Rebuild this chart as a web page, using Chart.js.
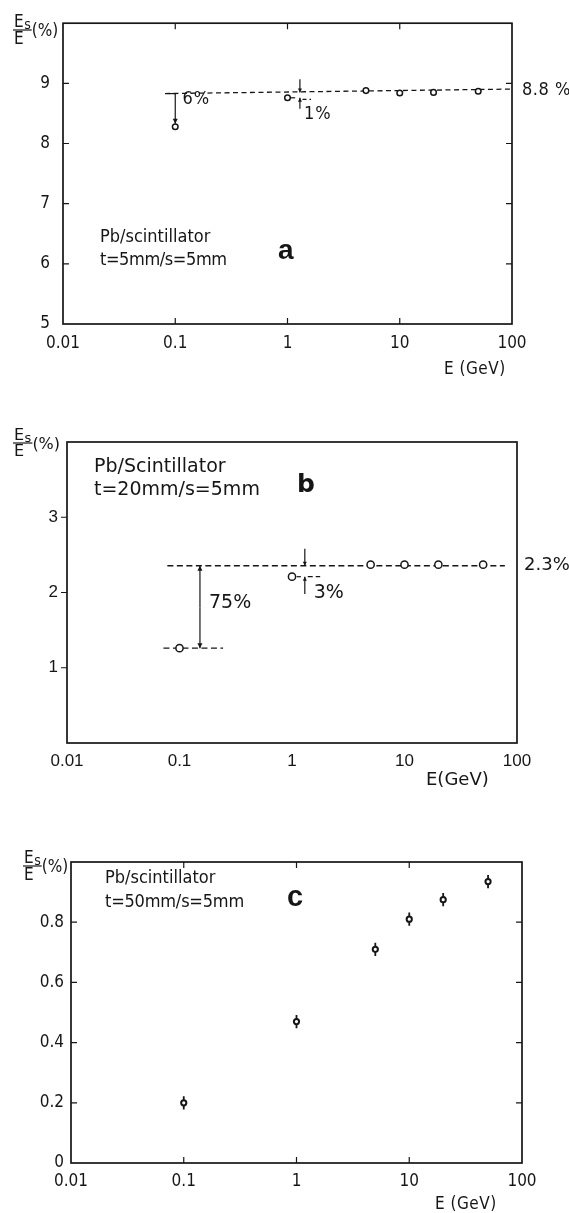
<!DOCTYPE html>
<html>
<head>
<meta charset="utf-8">
<script src="https://cdn.jsdelivr.net/npm/chart.js@4.4.1/dist/chart.umd.min.js"></script>
<style>
  html, body { margin: 0; padding: 0; background: #fff; }
  body { position: relative; width: 569px; height: 1213px; overflow: hidden; }
  canvas { position: absolute; left: 0; }
</style>
</head>
<body>
<canvas id="chartA" width="569" height="395" style="top:0"></canvas>
<canvas id="chartB" width="569" height="405" style="top:395px"></canvas>
<canvas id="chartC" width="569" height="413" style="top:800px"></canvas>
<script>
// decade ticks shared by all three energy axes
const xTicks = [0.01, 0.1, 1, 10, 100];

// (a) t = 5 mm
const energyA = [0.1, 1, 5, 10, 20, 50];
const resA = [8.28, 8.76, 8.88, 8.84, 8.85, 8.87];
const fitXA = [0.081, 100];
const fitYA = [8.83, 8.905];
const yTicksA = [5, 6, 7, 8, 9, 10];

// (b) t = 20 mm
const energyB = [0.1, 1, 5, 10, 20, 50];
const resB = [1.26, 2.21, 2.37, 2.37, 2.37, 2.37];
const fitXB = [0.078, 78];
const fitYB = [2.355, 2.355];
const lowXB = [0.072, 0.244];
const lowYB = [1.26, 1.26];
const yTicksB = [0, 1, 2, 3, 4];

// (c) t = 50 mm
const energyC = [0.1, 1, 5, 10, 20, 50];
const resC = [0.20, 0.47, 0.71, 0.81, 0.875, 0.935];
const errC = [0.022, 0.022, 0.022, 0.022, 0.022, 0.022];
const yTicksC = [0, 0.2, 0.4, 0.6, 0.8, 1];

const INK = '#161616';
const NARROW = "'Liberation Sans Narrow', 'DejaVu Sans Condensed', 'Arial Narrow', sans-serif";
const PLAIN = "'Liberation Sans', Arial, sans-serif";
const ROUND = "'DejaVu Sans', sans-serif";

function pts(xs, ys) {
    return xs.map((x, i) => ({ x: x, y: ys[i] }));
}

function drawText(ctx, str, x, y, font, spacing, align) {
    ctx.save();
    ctx.font = font;
    ctx.fillStyle = INK;
    ctx.textAlign = align || 'left';
    ctx.textBaseline = 'middle';
    if (spacing) ctx.letterSpacing = spacing + 'px';
    ctx.fillText(str, x, y);
    ctx.restore();
}

// vertical line with a filled head at y1
function arrowV(ctx, x, y0, y1, head) {
    const dir = Math.sign(y1 - y0);
    ctx.beginPath();
    ctx.moveTo(x, y0);
    ctx.lineTo(x, y1);
    ctx.stroke();
    ctx.beginPath();
    ctx.moveTo(x, y1);
    ctx.lineTo(x - head * 0.5, y1 - dir * head);
    ctx.lineTo(x + head * 0.5, y1 - dir * head);
    ctx.closePath();
    ctx.fill();
}

function hLine(ctx, x0, x1, y, dash) {
    ctx.save();
    ctx.setLineDash(dash || []);
    ctx.beginPath();
    ctx.moveTo(x0, y);
    ctx.lineTo(x1, y);
    ctx.stroke();
    ctx.restore();
}

// box around the plot plus short tick marks (left: 1 inward, -1 outward)
function drawFrame(chart, sides, tickLen) {
    const { ctx, chartArea: ar, scales: { x, y } } = chart;
    ctx.save();
    ctx.strokeStyle = INK;
    ctx.lineWidth = 1.7;
    ctx.strokeRect(ar.left, ar.top, ar.right - ar.left, ar.bottom - ar.top);
    ctx.lineWidth = 1.2;
    ctx.beginPath();
    x.ticks.forEach(t => {
        const p = x.getPixelForValue(t.value);
        if (p <= ar.left + 1 || p >= ar.right - 1) return;
        if (sides.bottom) { ctx.moveTo(p, ar.bottom); ctx.lineTo(p, ar.bottom - tickLen); }
        if (sides.top) { ctx.moveTo(p, ar.top); ctx.lineTo(p, ar.top + tickLen); }
    });
    y.ticks.forEach(t => {
        const p = y.getPixelForValue(t.value);
        if (p <= ar.top + 1 || p >= ar.bottom - 1) return;
        if (sides.left) { ctx.moveTo(ar.left, p); ctx.lineTo(ar.left + sides.left * tickLen, p); }
        if (sides.right) { ctx.moveTo(ar.right, p); ctx.lineTo(ar.right - tickLen, p); }
    });
    ctx.stroke();
    ctx.restore();
}

// Es / E (%) stacked title
function drawYTitle(ctx, x, barY, size, family) {
    ctx.save();
    ctx.fillStyle = INK;
    ctx.strokeStyle = INK;
    ctx.textAlign = 'left';
    ctx.textBaseline = 'alphabetic';
    ctx.font = size + 'px ' + family;
    const wE = ctx.measureText('E').width;
    ctx.fillText('E', x, barY - 3);
    ctx.font = Math.round(size * 0.8) + 'px ' + family;
    const ws = ctx.measureText('s').width;
    ctx.fillText('s', x + wE + 0.5, barY - 1.5);
    ctx.lineWidth = 1.2;
    ctx.beginPath();
    ctx.moveTo(x - 1, barY);
    ctx.lineTo(x + wE + ws + 1.5, barY);
    ctx.stroke();
    ctx.font = size + 'px ' + family;
    ctx.fillText('E', x, barY + size * 0.82);
    ctx.fillText('(%)', x + wE + ws + 1.5, barY + size * 0.38);
    ctx.restore();
}

function buildPanel(id, cfg) {
    const canvas = document.getElementById(id);
    const W = canvas.width, H = canvas.height;
    const a = cfg.area;
    return new Chart(canvas, {
        type: 'scatter',
        data: { datasets: cfg.datasets },
        options: {
            responsive: false,
            animation: false,
            devicePixelRatio: 1,
            layout: { padding: { left: 0, top: a.top, right: W - a.right, bottom: 0 } },
            plugins: { legend: { display: false }, tooltip: { enabled: false } },
            scales: {
                x: {
                    type: 'logarithmic',
                    min: 0.01,
                    max: 100,
                    afterFit: s => { s.height = H - a.bottom; },
                    afterBuildTicks: s => { s.ticks = xTicks.map(v => ({ value: v })); },
                    grid: { display: false, drawTicks: false },
                    border: { display: false },
                    ticks: {
                        color: INK, font: cfg.tickFont, padding: cfg.xPad,
                        maxRotation: 0, autoSkip: false,
                        callback: v => String(v)
                    }
                },
                y: {
                    type: 'linear',
                    min: cfg.yTicks[0],
                    max: cfg.yTicks[cfg.yTicks.length - 1],
                    afterFit: s => { s.width = a.left; },
                    afterBuildTicks: s => { s.ticks = cfg.yTicks.map(v => ({ value: v })); },
                    grid: { display: false, drawTicks: false },
                    border: { display: false },
                    ticks: { color: INK, font: cfg.tickFont, padding: cfg.yPad, callback: cfg.yLabel }
                }
            }
        },
        plugins: [{
            id: 'paper',
            beforeDatasetsDraw: chart => { if (cfg.under) cfg.under(chart); },
            afterDraw: chart => cfg.draw(chart)
        }]
    });
}

function pointSet(xs, ys, radius, width) {
    return {
        data: pts(xs, ys),
        pointRadius: radius,
        pointBorderWidth: width,
        pointBackgroundColor: '#fff',
        pointBorderColor: INK,
        showLine: false
    };
}

function lineSet(xs, ys, dash, width) {
    return {
        data: pts(xs, ys),
        showLine: true,
        borderColor: INK,
        borderWidth: width,
        borderDash: dash,
        pointRadius: 0
    };
}

// ---- panel a ----
buildPanel('chartA', {
    area: { left: 63, top: 22, right: 512, bottom: 324 },
    yTicks: yTicksA,
    tickFont: { family: NARROW, size: 17 },
    xPad: 9,
    yPad: 13,
    yLabel: v => (v === 10 ? '' : String(v)),
    datasets: [pointSet(energyA, resA, 2.8, 1.5), lineSet(fitXA, fitYA, [5, 3.5], 1.3)],
    draw: chart => {
        const { ctx, chartArea: ar, scales: { x, y } } = chart;
        const px = v => x.getPixelForValue(v), py = v => y.getPixelForValue(v);
        drawFrame(chart, { left: 1, right: true, top: true, bottom: true }, 6);
        ctx.save();
        ctx.strokeStyle = INK;
        ctx.fillStyle = INK;
        ctx.lineWidth = 1.2;
        // 6 % gap at 0.1 GeV
        hLine(ctx, px(0.088), px(0.1), py(fitYA[0]));
        arrowV(ctx, px(0.1), py(fitYA[0]), py(resA[0]) - 3, 5);
        // 1 % gap at 1 GeV
        arrowV(ctx, px(1.29), py(9.07), py(8.85), 4);
        arrowV(ctx, px(1.29), py(8.58), py(resA[1]), 4);
        hLine(ctx, px(1.07), px(1.17), py(resA[1]));
        hLine(ctx, px(1.36), px(1.62), py(resA[1]) + 1.5, [4, 3]);
        ctx.restore();
        drawText(ctx, '6%', px(0.116), py(8.73), '18px ' + NARROW, 1);
        drawText(ctx, '1%', px(1.4), py(8.48), '18px ' + NARROW, 1);
        drawText(ctx, '8.8 %', ar.right + 10, py(8.89), '18px ' + NARROW, 0.5);
        drawText(ctx, 'Pb/scintillator', 100, 237, '18px ' + NARROW);
        drawText(ctx, 't=5mm/s=5mm', 100, 260, '18px ' + NARROW, -0.4);
        drawText(ctx, 'a', 278, 251, 'bold 28px ' + PLAIN);
        drawText(ctx, 'E (GeV)', 444, 370, '17px ' + NARROW, 0.5);
        drawYTitle(ctx, 14, 30, 17, NARROW);
    }
});

// ---- panel b ----
buildPanel('chartB', {
    area: { left: 67, top: 47, right: 517, bottom: 348 },
    yTicks: yTicksB,
    tickFont: { family: PLAIN, size: 17 },
    xPad: 8,
    yPad: 9,
    yLabel: v => (v === 0 || v === 4 ? '' : String(v)),
    datasets: [
        pointSet(energyB, resB, 3.6, 1.5),
        lineSet(fitXB, fitYB, [6, 3.5], 1.5),
        lineSet(lowXB, lowYB, [6, 3.5], 1.3)
    ],
    draw: chart => {
        const { ctx, chartArea: ar, scales: { x, y } } = chart;
        const px = v => x.getPixelForValue(v), py = v => y.getPixelForValue(v);
        drawFrame(chart, { left: -1 }, 6);
        ctx.save();
        ctx.strokeStyle = INK;
        ctx.fillStyle = INK;
        ctx.lineWidth = 1.2;
        // 75 % gap at 0.1 GeV
        arrowV(ctx, px(0.152), py(1.8), py(fitYB[0]), 5);
        arrowV(ctx, px(0.152), py(1.8), py(lowYB[0]), 5);
        // 3 % gap at 1 GeV
        arrowV(ctx, px(1.3), py(2.58), py(fitYB[0]), 4);
        arrowV(ctx, px(1.3), py(1.98), py(resB[1]), 4);
        hLine(ctx, px(1.1), px(1.2), py(resB[1]));
        hLine(ctx, px(1.38), px(1.78), py(resB[1]), [5, 3]);
        ctx.restore();
        drawText(ctx, '75%', px(0.183), py(1.86), '19px ' + ROUND);
        drawText(ctx, '3%', px(1.56), py(1.99), '19px ' + ROUND);
        drawText(ctx, '2.3%', ar.right + 7, py(fitYB[0]), '18px ' + ROUND);
        drawText(ctx, 'Pb/Scintillator', 94, 72, '19px ' + ROUND);
        drawText(ctx, 't=20mm/s=5mm', 94, 95, '19px ' + ROUND);
        drawText(ctx, 'b', 297, 90, 'bold 25px ' + ROUND);
        drawText(ctx, 'E(GeV)', 426, 385, '18px ' + ROUND);
        drawYTitle(ctx, 14, 48, 16, ROUND);
    }
});

// ---- panel c ----
buildPanel('chartC', {
    area: { left: 71, top: 62, right: 522, bottom: 363 },
    yTicks: yTicksC,
    tickFont: { family: NARROW, size: 17 },
    xPad: 8.5,
    yPad: 7,
    yLabel: v => (v >= 1 ? '' : (v === 0 ? '0' : v.toFixed(1))),
    datasets: [pointSet(energyC, resC, 2.6, 2)],
    under: chart => {
        const { ctx, scales: { x, y } } = chart;
        ctx.save();
        ctx.strokeStyle = INK;
        ctx.lineWidth = 1.8;
        ctx.beginPath();
        energyC.forEach((e, i) => {
            ctx.moveTo(x.getPixelForValue(e), y.getPixelForValue(resC[i] - errC[i]));
            ctx.lineTo(x.getPixelForValue(e), y.getPixelForValue(resC[i] + errC[i]));
        });
        ctx.stroke();
        ctx.restore();
    },
    draw: chart => {
        const { ctx } = chart;
        drawFrame(chart, { left: 1, right: true, top: true, bottom: true }, 6);
        drawText(ctx, 'Pb/scintillator', 105, 78, '18px ' + NARROW);
        drawText(ctx, 't=50mm/s=5mm', 105, 102, '18px ' + NARROW, -0.2);
        drawText(ctx, 'c', 287, 98, 'bold 29px ' + PLAIN);
        drawText(ctx, 'E (GeV)', 435, 405, '17px ' + NARROW, 0.5);
        drawYTitle(ctx, 24, 66, 17, NARROW);
    }
});
</script>
</body>
</html>
